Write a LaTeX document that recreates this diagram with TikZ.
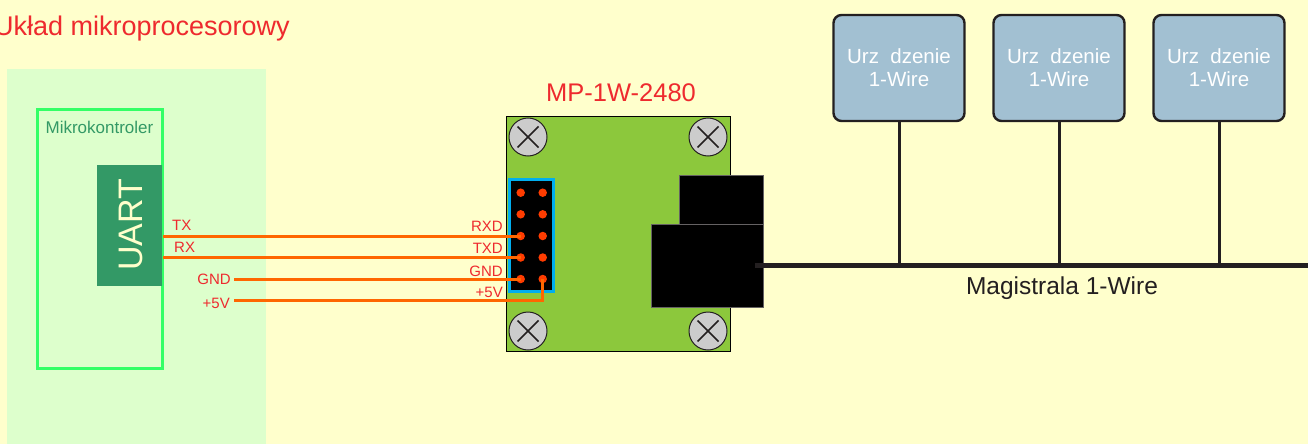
\documentclass[tikz,border=0pt]{standalone}
\usepackage{fontspec}
\setmainfont{Liberation Sans}
\definecolor{paper}{HTML}{FFFFCC}
\definecolor{sysgreen}{HTML}{DDFFCC}
\definecolor{mcuedge}{HTML}{33FF66}
\definecolor{uartgreen}{HTML}{339966}
\definecolor{pcbgreen}{HTML}{8CC83C}
\definecolor{wireorange}{HTML}{FF6600}
\definecolor{labelred}{HTML}{EE2A2E}
\definecolor{pinred}{HTML}{FF3C00}
\definecolor{headerblue}{HTML}{00AEEF}
\definecolor{devblue}{HTML}{A2C0D2}
\definecolor{inkblack}{HTML}{231F20}
\tikzset{
  pin/.style={circle,fill=pinred,minimum size=8.5pt,inner sep=0pt},
  screw/.style={circle,draw=inkblack,line width=1pt,fill=black!20,minimum size=38pt,inner sep=0pt,
    path picture={\draw[inkblack,line width=1.5pt] (path picture bounding box.center)+(-10.5pt,-10.5pt) -- +(10.5pt,10.5pt)
      (path picture bounding box.center)+(-10.5pt,10.5pt) -- +(10.5pt,-10.5pt);}},
  jack/.style={draw=inkblack!70,line width=0.7pt,fill=black,inner sep=0pt},
  device/.style={draw=inkblack,line width=2.4pt,fill=devblue,rounded corners=8pt,minimum width=131pt,minimum height=106pt,
    align=center,text=white,font=\fontsize{20.5}{23}\selectfont,inner sep=0pt},
  wire/.style={wireorange,line width=3pt},
  stub/.style={inkblack,line width=3pt},
  sig/.style={text=labelred,font=\fontsize{15}{17}\selectfont,inner sep=0pt}
}
\begin{document}
\begin{tikzpicture}[x=1pt,y=-1pt]
\useasboundingbox (0,0) rectangle (1308,444);
\fill [paper] (0,0) rectangle (1308,444);
\fill [sysgreen] (7,69) rectangle (266,444);
\node [anchor=west,text=labelred,font=\fontsize{27}{30}\selectfont,inner sep=0pt] (systitle) at (-6,29) {Układ mikroprocesorowy};
\node [draw=mcuedge,line width=3pt,minimum width=125pt,minimum height=259pt,inner sep=0pt] (mcu) at (100,238.5) {};
\node [text=uartgreen,font=\fontsize{17}{20}\selectfont,inner sep=0pt] (mcutitle) at (99.5,127) {Mikrokontroler};
\node [fill=uartgreen,minimum width=65pt,minimum height=121pt,inner sep=0pt] (uart) at (129.5,225.5) {};
\node [rotate=90,text=paper,font=\fontsize{34}{40}\selectfont,inner sep=0pt] (uarttext) at (130.5,225) {UART};
\node [draw=black,line width=1pt,fill=pcbgreen,minimum width=224pt,minimum height=235pt,inner sep=0pt] (pcb) at (618.5,234) {};
\node [text=labelred,font=\fontsize{25.5}{30}\selectfont,inner sep=0pt] (pcbtitle) at (621,93) {MP-1W-2480};
\node [screw] (screwa) at (528,137) {};
\node [screw] (screwb) at (708,137) {};
\node [screw] (screwc) at (528,331) {};
\node [screw] (screwd) at (708,331) {};
\node [jack,minimum width=84pt,minimum height=49pt] (jackup) at (721.5,199.5) {};
\node [jack,minimum width=112pt,minimum height=83pt] (jacklow) at (707.5,266) {};
\node [draw=headerblue,line width=3pt,fill=black,minimum width=44pt,minimum height=112pt,inner sep=0pt] (header) at (531.5,235.5) {};
\foreach \row/\yy in {1/192.7,2/214.3,3/236,4/257.5,5/279} {
  \node [pin] (pinl\row) at (520.7,\yy) {};
  \node [pin] (pinr\row) at (542.7,\yy) {};
}
\coordinate (txend) at (163,236);
\coordinate (rxend) at (163,257.5);
\coordinate (gndend) at (234,279);
\coordinate (vccend) at (234,300.5);
\draw [wire] (txend) -- (pinl3.center);
\draw [wire] (rxend) -- (pinl4.center);
\draw [wire] (gndend) -- (pinl5.center);
\draw [wire] (vccend) -| (pinr5.center);
\node [sig,anchor=west] (txlabel) at (172,225) {TX};
\node [sig,anchor=west] (rxlabel) at (174,247) {RX};
\node [sig,anchor=east] (gndlabel) at (231,279) {GND};
\node [sig,anchor=east] (vcclabel) at (230,303) {+5V};
\node [sig,anchor=east] (rxdlabel) at (503,226) {RXD};
\node [sig,anchor=east] (txdlabel) at (503,248) {TXD};
\node [sig,anchor=east] (gndpin) at (503,271) {GND};
\node [sig,anchor=east] (vccpin) at (503,292) {+5V};
\node [device] (deva) at (899,68) {Urz\ \ dzenie\\1-Wire};
\node [device] (devb) at (1059,68) {Urz\ \ dzenie\\1-Wire};
\node [device] (devc) at (1219,68) {Urz\ \ dzenie\\1-Wire};
\coordinate (busa) at (755,265.5);
\coordinate (busb) at (1308,265.5);
\draw [inkblack,line width=5pt] (busa) -- (busb);
\draw [stub] (deva) -- (deva |- busa);
\draw [stub] (devb) -- (devb |- busa);
\draw [stub] (devc) -- (devc |- busa);
\node [text=inkblack,font=\fontsize{24.5}{28}\selectfont,inner sep=0pt] (buslabel) at (1062,288.5) {Magistrala 1-Wire};
\end{tikzpicture}
\end{document}
